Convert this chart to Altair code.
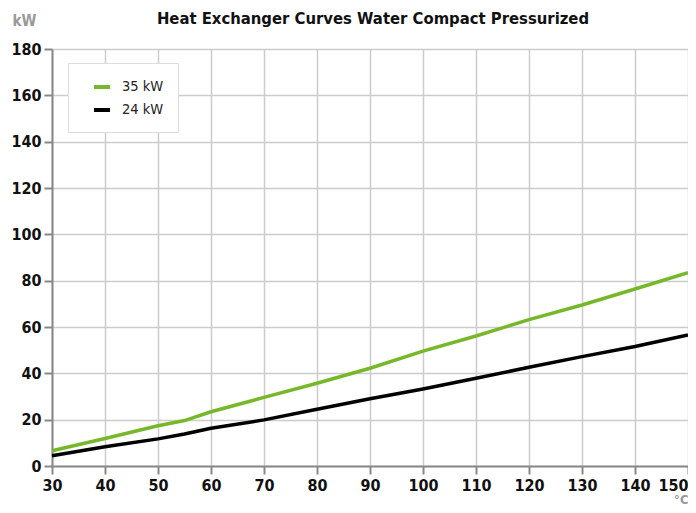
import altair as alt
import pandas as pd

temps = [30, 40, 50, 55, 60, 70, 80, 90, 100, 110, 120, 130, 140, 150]
kw35 = [6.6, 11.9, 17.4, 19.6, 23.4, 29.6, 35.7, 42.2, 49.6, 56.1, 63.2, 69.5, 76.4, 83.4]
kw24 = [4.4, 8.3, 11.7, 13.8, 16.3, 19.9, 24.5, 29.0, 33.2, 37.9, 42.6, 47.2, 51.6, 56.6]
series = ["35 kW", "24 kW"]
colors = ["#77B82A", "#000000"]
title_text = ["Heat Exchanger Curves Water Compact Pressurized"]

rows = []
for s, vals in zip(series, [kw35, kw24]):
    for t, v in zip(temps, vals):
        rows.append({"temp": t, "kw": v, "series": s})
df = pd.DataFrame(rows)

FONT = "DejaVu Sans Condensed"
W, H = 636, 417

lines = alt.Chart(df).mark_line(strokeWidth=3.5).encode(
    x=alt.X("temp:Q", scale=alt.Scale(domain=[30, 150], nice=False, zero=False),
            axis=alt.Axis(values=list(range(30, 151, 10)), title="°C",
                          titleX=W, titleY=37, titleAlign="right", titleBaseline="alphabetic",
                          titleColor="#999", titleFontSize=13, titleFontWeight="bold",
                          labelAlign=alt.expr("datum.value == 150 ? 'right' : 'center'"))),
    y=alt.Y("kw:Q", scale=alt.Scale(domain=[0, 180], nice=False),
            axis=alt.Axis(values=list(range(0, 181, 20)), title="kW",
                          titleAngle=0, titleX=-40, titleY=-24, titleAlign="left",
                          titleBaseline="alphabetic", titleColor="#999",
                          titleFontSize=15, titleFontWeight="bold")),
    color=alt.Color("series:N", scale=alt.Scale(domain=series, range=colors),
                    legend=alt.Legend(title=None, orient="none", legendX=16, legendY=14,
                                      fillColor="white", strokeColor="#dddddd",
                                      padding=14, rowPadding=5, symbolType="stroke",
                                      symbolSize=256, symbolStrokeWidth=4, symbolOffset=10,
                                      labelFontSize=14.5, labelFont=FONT, labelColor="#222",
                                      labelOffset=10, offset=0)),
)

title = alt.Chart(pd.DataFrame({"t": title_text})).mark_text(
    font=FONT, fontSize=16.5, fontWeight="bold", color="#111",
    align="center", baseline="alphabetic"
).encode(text="t:N", x=alt.value(321), y=alt.value(-25))

chart = alt.layer(lines, title).properties(
    width=W, height=H,
    autosize=alt.AutoSizeParams(type="none"),
    padding={"left": 44, "top": 41, "right": 0, "bottom": 39},
).configure_axis(
    labelFont=FONT, labelFontSize=16, labelFontWeight="bold", labelColor="#111",
    titleFont=FONT,
    gridColor="#cccccc", gridWidth=1.5,
    domainColor="#888888", domainWidth=2,
    tickColor="#888888", tickWidth=2, tickSize=8, labelPadding=3,
).configure_view(stroke=None)

chart.save("out.html", embed_options={"renderer": "svg", "actions": False})
